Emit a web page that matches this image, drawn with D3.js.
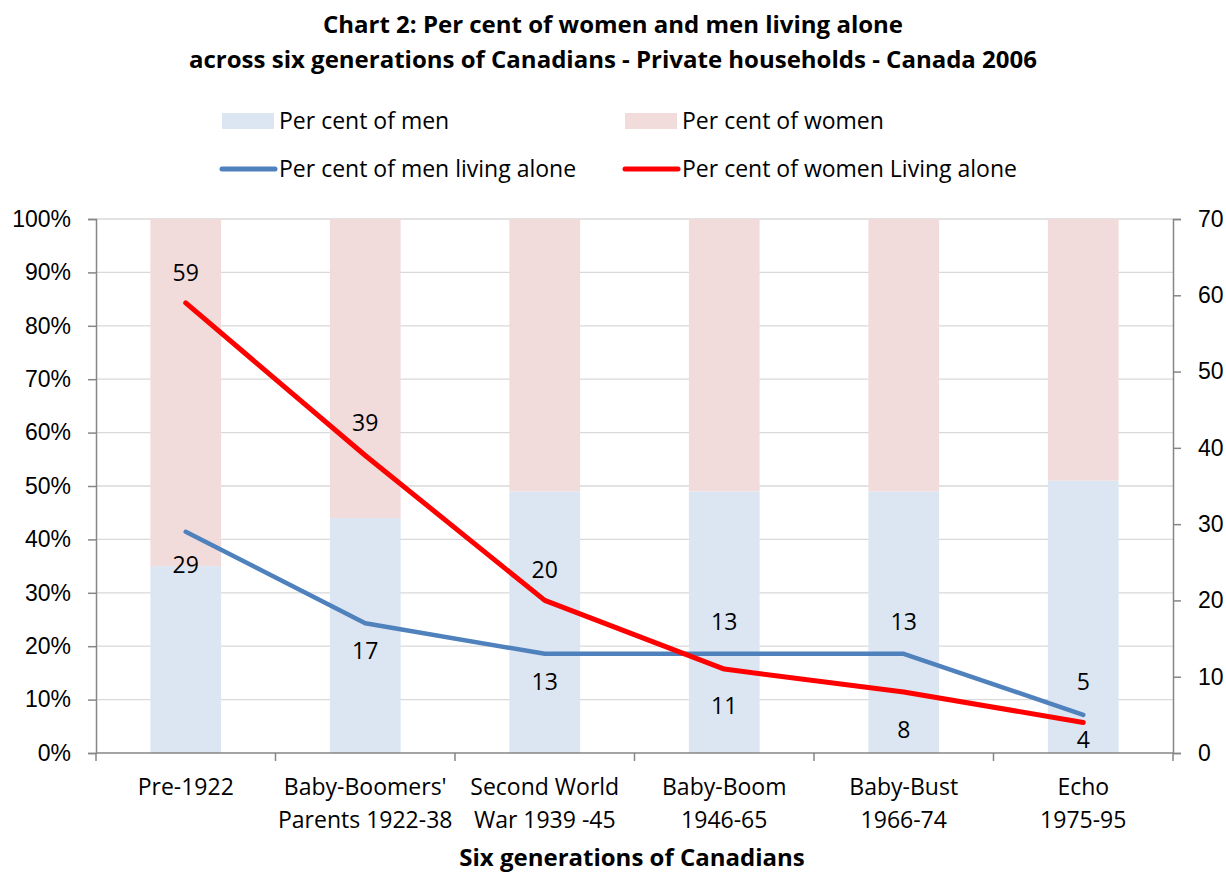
<!DOCTYPE html>
<html>
<head>
<meta charset="utf-8">
<script src="https://cdn.jsdelivr.net/npm/d3@7"></script>
<style>
  body { margin: 0; background: #fff; }
  svg { display: block; font-family: "Open Sans", "Liberation Sans", sans-serif; }
</style>
</head>
<body>
<div id="chart"></div>
<script>
// chart data
const categories = ["Pre-1922", "Baby-Boomers' Parents 1922-38", "Second World War 1939 -45",
  "Baby-Boom 1946-65", "Baby-Bust 1966-74", "Echo 1975-95"];
const categoryLines = [["Pre-1922"], ["Baby-Boomers'", "Parents 1922-38"], ["Second World", "War 1939 -45"],
  ["Baby-Boom", "1946-65"], ["Baby-Bust", "1966-74"], ["Echo", "1975-95"]];
const menShare = [35, 44, 49, 49, 49, 51];        // per cent of men (bar, bottom)
const womenShare = [65, 56, 51, 51, 51, 49];      // per cent of women (bar, top)
const menAlone = [29, 17, 13, 13, 13, 5];
const womenAlone = [59, 39, 20, 11, 8, 4];
const leftTicks = [0, 10, 20, 30, 40, 50, 60, 70, 80, 90, 100];
const rightTicks = [0, 10, 20, 30, 40, 50, 60, 70];

// label placement (pixels from the point, + is below)
const menLabelDy = [33, 28, 28, -32, -32, -33];
const womenLabelDy = [-30, -33, -30, 37, 38, 17];

const W = 1226, H = 875;
const x0 = 96, x1 = 1173, yTop = 219, yBot = 753;
const fs = 23, titleFs = 24;

const menBarColor = "#DCE6F2", womenBarColor = "#F2DCDB";
const menLineColor = "#4F81BD", womenLineColor = "#FF0000";
const axisColor = "#868686", gridColor = "#D9D9D9";

const svg = d3.select("#chart").append("svg")
  .attr("width", W)
  .attr("height", H);

// scales
const xCat = d3.scaleBand().domain(categories).range([x0, x1]);
const xBar = d3.scaleBand().domain(categories).range([x0, x1])
  .paddingInner(0.606).paddingOuter(0.303);
const yPct = d3.scaleLinear().domain([0, 100]).range([yBot, yTop]);
const yNum = d3.scaleLinear().domain([0, 70]).range([yBot, yTop]);

// title
svg.append("text")
  .attr("x", 613).attr("y", 0)
  .attr("text-anchor", "middle")
  .attr("font-weight", "bold")
  .attr("font-size", titleFs)
  .selectAll("tspan")
  .data(["Chart 2: Per cent of women and men living alone",
    "across six generations of Canadians - Private households - Canada 2006"])
  .join("tspan")
  .attr("x", 613)
  .attr("y", (d, i) => 33 + i * 35)
  .text(d => d);

// gridlines
svg.append("g")
  .selectAll("line")
  .data(leftTicks.filter(d => d > 0))
  .join("line")
  .attr("x1", x0).attr("x2", x1)
  .attr("y1", d => yPct(d)).attr("y2", d => yPct(d))
  .attr("stroke", gridColor)
  .attr("stroke-width", 1.3);

// stacked bars
const stackRows = categories.map((c, i) => ({ cat: c, men: menShare[i], women: womenShare[i] }));
const stack = d3.stack().keys(["men", "women"])(stackRows);
const barColors = { men: menBarColor, women: womenBarColor };

svg.append("g")
  .selectAll("g")
  .data(stack)
  .join("g")
  .attr("fill", d => barColors[d.key])
  .selectAll("rect")
  .data(d => d)
  .join("rect")
  .attr("x", d => xBar(d.data.cat))
  .attr("width", xBar.bandwidth())
  .attr("y", d => yPct(d[1]))
  .attr("height", d => yPct(d[0]) - yPct(d[1]));

// left axis
const leftAxis = svg.append("g")
  .attr("transform", `translate(${x0},0)`)
  .call(d3.axisLeft(yPct).tickValues(leftTicks).tickFormat(d => d + "%").tickSize(8).tickPadding(17));
leftAxis.select(".domain").attr("stroke", axisColor).attr("stroke-width", 1.5);
leftAxis.selectAll(".tick line").attr("stroke", axisColor).attr("stroke-width", 1.5);
leftAxis.selectAll(".tick text").attr("font-size", fs).attr("fill", "#000").attr("font-family", null);

// right axis
const rightAxis = svg.append("g")
  .attr("transform", `translate(${x1},0)`)
  .call(d3.axisRight(yNum).tickValues(rightTicks).tickSize(8).tickPadding(17));
rightAxis.select(".domain").attr("stroke", axisColor).attr("stroke-width", 1.5);
rightAxis.selectAll(".tick line").attr("stroke", axisColor).attr("stroke-width", 1.5);
rightAxis.selectAll(".tick text").attr("font-size", fs).attr("fill", "#000").attr("font-family", null);

// bottom axis with ticks between categories
const xAxisG = svg.append("g");
xAxisG.append("line")
  .attr("x1", x0).attr("x2", x1)
  .attr("y1", yBot).attr("y2", yBot)
  .attr("stroke", axisColor).attr("stroke-width", 1.5);
xAxisG.selectAll(".xtick")
  .data(categories.map(c => xCat(c)).concat([x1]))
  .join("line")
  .attr("class", "xtick")
  .attr("x1", d => d).attr("x2", d => d)
  .attr("y1", yBot).attr("y2", yBot + 8)
  .attr("stroke", axisColor).attr("stroke-width", 1.5);

const xLabels = xAxisG.selectAll(".xlabel")
  .data(categories)
  .join("text")
  .attr("class", "xlabel")
  .attr("text-anchor", "middle")
  .attr("font-size", fs);
xLabels.selectAll("tspan")
  .data((d, i) => categoryLines[i].map(t => ({ t, cx: xCat(d) + xCat.bandwidth() / 2 })))
  .join("tspan")
  .attr("x", d => d.cx)
  .attr("y", (d, i) => 795 + i * 33)
  .text(d => d.t);

// axis title
svg.append("text")
  .attr("x", 632).attr("y", 866)
  .attr("text-anchor", "middle")
  .attr("font-weight", "bold")
  .attr("font-size", titleFs)
  .text("Six generations of Canadians");

// lines
const cx = c => xCat(c) + xCat.bandwidth() / 2;
const lineGen = vals => d3.line()
  .x((d, i) => cx(categories[i]))
  .y(d => yNum(d))(vals);

svg.append("path")
  .attr("d", lineGen(menAlone))
  .attr("fill", "none")
  .attr("stroke", menLineColor)
  .attr("stroke-width", 4.5)
  .attr("stroke-linecap", "round")
  .attr("stroke-linejoin", "round");

svg.append("path")
  .attr("d", lineGen(womenAlone))
  .attr("fill", "none")
  .attr("stroke", womenLineColor)
  .attr("stroke-width", 5)
  .attr("stroke-linecap", "round")
  .attr("stroke-linejoin", "round");

// data labels
function addLabels(vals, dys) {
  svg.append("g")
    .selectAll("text")
    .data(vals)
    .join("text")
    .attr("x", (d, i) => cx(categories[i]))
    .attr("y", (d, i) => yNum(d) + dys[i])
    .attr("dy", "0.35em")
    .attr("text-anchor", "middle")
    .attr("font-size", fs)
    .text(d => d);
}
addLabels(menAlone, menLabelDy);
addLabels(womenAlone, womenLabelDy);

// legend
const legend = svg.append("g").attr("font-size", fs);
const legendItems = [
  { label: "Per cent of men", type: "rect", color: menBarColor, x: 222, y: 121 },
  { label: "Per cent of women", type: "rect", color: womenBarColor, x: 625, y: 121 },
  { label: "Per cent of men living alone", type: "line", color: menLineColor, x: 222, y: 169 },
  { label: "Per cent of women Living alone", type: "line", color: womenLineColor, x: 625, y: 169 }
];
legendItems.forEach(it => {
  if (it.type === "rect") {
    legend.append("rect")
      .attr("x", it.x).attr("y", it.y - 8)
      .attr("width", 52).attr("height", 16)
      .attr("fill", it.color);
  } else {
    legend.append("line")
      .attr("x1", it.x).attr("x2", it.x + 53)
      .attr("y1", it.y).attr("y2", it.y)
      .attr("stroke", it.color)
      .attr("stroke-width", 5)
      .attr("stroke-linecap", "round");
  }
  legend.append("text")
    .attr("x", it.x + 57).attr("y", it.y)
    .attr("dy", "0.35em")
    .text(it.label);
});
</script>
</body>
</html>
